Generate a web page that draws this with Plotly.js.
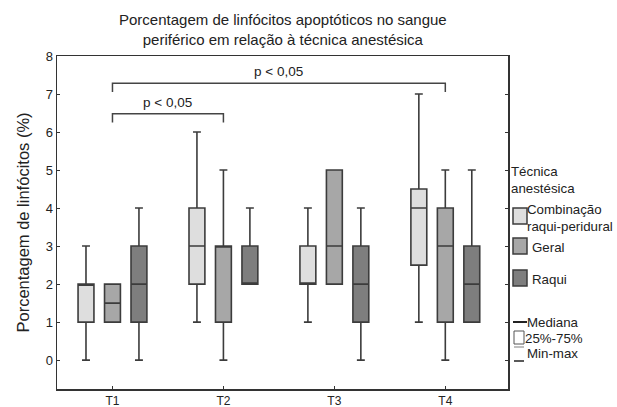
<!DOCTYPE html>
<html>
<head>
<meta charset="utf-8">
<script src="https://cdn.plot.ly/plotly-3.0.1.min.js"></script>
<style>html,body{margin:0;padding:0;background:#fff}#chart{width:617px;height:407px}</style>
</head>
<body>
<div id="chart"></div>
<script>
// ---- data ----
const categories = ['T1', 'T2', 'T3', 'T4'];
const seriesNames = ['Combinação raqui-peridural', 'Geral', 'Raqui'];

const combMin = [0, 1, 1, 1];
const combQ1 = [1, 2, 2, 2.5];
const combMed = [2, 3, 2, 4];
const combQ3 = [2, 4, 3, 4.5];
const combMax = [3, 6, 4, 7];

const geralMin = [1, 0, 2, 0];
const geralQ1 = [1, 1, 2, 1];
const geralMed = [1.5, 3, 3, 3];
const geralQ3 = [2, 3, 5, 4];
const geralMax = [2, 5, 5, 5];

const raquiMin = [0, 2, 0, 1];
const raquiQ1 = [1, 2, 1, 1];
const raquiMed = [2, 2, 2, 2];
const raquiQ3 = [3, 3, 3, 3];
const raquiMax = [4, 4, 4, 5];

// significance brackets: [from category, to category, level, label]
const bracketFrom = ['T1', 'T1'];
const bracketTo = ['T2', 'T4'];
const bracketLevel = [6.48, 7.28];
const bracketLabel = ['p < 0,05', 'p < 0,05'];

const titleText = 'Porcentagem de linfócitos apoptóticos no sangue<br>periférico em relação à técnica anestésica';

const fills = ['#dedede', '#a7a7a7', '#7e7e7e'];
const edge = '#3c3c3c';
const font = 'Liberation Sans, Arial, Helvetica, sans-serif';

function boxTrace(name, mn, q1, md, q3, mx, fill) {
  return {
    type: 'box', name: name, x: categories,
    lowerfence: mn, q1: q1, median: md, q3: q3, upperfence: mx,
    fillcolor: fill, line: {color: edge, width: 1.6},
    whiskerwidth: 0.5, boxpoints: false, showlegend: false, hoverinfo: 'skip'
  };
}

const data = [
  boxTrace(seriesNames[0], combMin, combQ1, combMed, combQ3, combMax, fills[0]),
  boxTrace(seriesNames[1], geralMin, geralQ1, geralMed, geralQ3, geralMax, fills[1]),
  boxTrace(seriesNames[2], raquiMin, raquiQ1, raquiMed, raquiQ3, raquiMax, fills[2])
];

const shapes = [];
const annotations = [];
const idx = c => categories.indexOf(c);
const tickDrop = 0.23;
for (let i = 0; i < bracketFrom.length; i++) {
  const a = idx(bracketFrom[i]), b = idx(bracketTo[i]), h = bracketLevel[i];
  shapes.push({type: 'path', xref: 'x', yref: 'y',
    path: `M ${a} ${h - tickDrop} L ${a} ${h} L ${b} ${h} L ${b} ${h - tickDrop}`,
    line: {color: '#444', width: 1.5}});
  annotations.push({xref: 'x', yref: 'y', x: (a + b) / 2, y: h, yshift: 2,
    text: bracketLabel[i], showarrow: false, xanchor: 'center', yanchor: 'bottom',
    font: {family: font, size: 13.5, color: '#222'}});
}

// legend and title (drawn in paper coordinates)
const px = v => (v - 57) / 451;
const py = v => (389 - v) / 333;
annotations.push({xref: 'paper', yref: 'paper', x: 0.5, y: py(30), xanchor: 'center', yanchor: 'middle',
  text: titleText, showarrow: false, align: 'center', font: {family: font, size: 15, color: '#222'}});

const legText = (x, y, t) => annotations.push({xref: 'paper', yref: 'paper', x: px(x), y: py(y),
  text: t, showarrow: false, xanchor: 'left', yanchor: 'middle', align: 'left',
  font: {family: font, size: 13.3, color: '#222'}});

legText(509, 180, 'Técnica<br>anestésica');
const swY = [216, 246, 278];
for (let i = 0; i < 3; i++) {
  shapes.push({type: 'rect', xref: 'paper', yref: 'paper',
    x0: px(513), x1: px(527), y0: py(swY[i] + 8), y1: py(swY[i] - 8),
    fillcolor: fills[i], line: {color: edge, width: 1.5}});
}
legText(525, 218, 'Combinação<br>raqui-peridural');
legText(530, 247, 'Geral');
legText(530, 279, 'Raqui');

shapes.push({type: 'line', xref: 'paper', yref: 'paper', x0: px(513), x1: px(527), y0: py(322), y1: py(322), line: {color: '#222', width: 2}});
legText(525, 322, 'Mediana');
shapes.push({type: 'rect', xref: 'paper', yref: 'paper', x0: px(514), x1: px(524), y0: py(344), y1: py(331), fillcolor: '#fff', line: {color: '#555', width: 1}});
legText(523, 338, '25%-75%');
shapes.push({type: 'line', xref: 'paper', yref: 'paper', x0: px(514), x1: px(524), y0: py(347), y1: py(347), line: {color: '#aaa', width: 1.5}});
shapes.push({type: 'line', xref: 'paper', yref: 'paper', x0: px(514), x1: px(524), y0: py(361), y1: py(361), line: {color: '#222', width: 1.5}});
legText(525, 353, 'Min-max');

const layout = {
  width: 617, height: 407,
  margin: {l: 57, r: 109, t: 56, b: 18},
  paper_bgcolor: '#fff', plot_bgcolor: '#fff',
  font: {family: font, size: 13, color: '#222'},
  boxmode: 'group', boxgap: 0.284, boxgroupgap: 0.4,
  xaxis: {type: 'category', categoryarray: categories, range: [-0.5, 3.565],
    showline: true, linecolor: '#333', linewidth: 1.5, mirror: true,
    ticks: 'inside', ticklen: 3, tickcolor: '#333', showgrid: false, zeroline: false,
    tickfont: {family: font, size: 12, color: '#222'}},
  yaxis: {range: [-0.76, 8], tickvals: [0, 1, 2, 3, 4, 5, 6, 7, 8],
    showline: true, linecolor: '#333', linewidth: 1.5, mirror: 'ticks',
    ticks: 'inside', ticklen: 3, tickcolor: '#333', showgrid: false, zeroline: false,
    tickfont: {family: font, size: 13, color: '#222'},
    title: {text: 'Porcentagem de linfócitos (%)', standoff: 12, font: {family: font, size: 16.5, color: '#222'}}},
  shapes: shapes,
  annotations: annotations
};

Plotly.newPlot('chart', data, layout, {displayModeBar: false, staticPlot: true});
</script>
</body>
</html>
